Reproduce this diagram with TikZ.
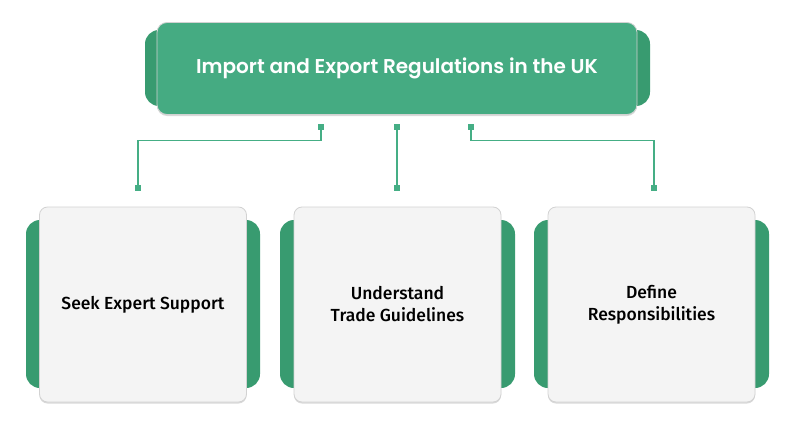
\documentclass[tikz,border=0pt]{standalone}
\usepackage{fontspec}
\setmainfont{Fira Sans}
\newfontfamily\cardfont{Fira Sans Medium}
\newfontfamily\titlefont{Poppins SemiBold}
\usetikzlibrary{shadows}
\definecolor{gfront}{HTML}{45AB82}
\definecolor{gback}{HTML}{389B70}
\definecolor{cardbg}{HTML}{F4F4F4}
\definecolor{cardln}{HTML}{D2D2D2}
\definecolor{linkc}{HTML}{45AE85}
\begin{document}
\begin{tikzpicture}[x=1pt,y=-1pt,
  backbar/.style={fill=gback,rounded corners=14pt},
  titlebox/.style={fill=gfront,draw=cardln,line width=0.8pt,rounded corners=10pt,minimum width=480pt,minimum height=92pt,inner sep=0pt,
    font=\titlefont\fontsize{20}{24}\selectfont,text=white},
  card/.style={fill=cardbg,draw=cardln,line width=0.8pt,rounded corners=8pt,minimum width=207pt,minimum height=195pt,inner sep=0pt,
    align=center,font=\cardfont\fontsize{17.5}{22}\selectfont,text=black,
    drop shadow={shadow xshift=0pt,shadow yshift=-1.5pt,opacity=0.15,fill=black}},
  dot/.style={fill=linkc,minimum size=6pt,inner sep=0pt},
  link/.style={draw=linkc,line width=1.5pt}]
\useasboundingbox (0,0) rectangle (794,428);
% top
\fill[backbar] (145,30) rectangle (650,106);
\node[titlebox,drop shadow={shadow xshift=0pt,shadow yshift=-1.5pt,opacity=0.15,fill=black}] (top) at (397,68.5) {Import and Export Regulations in the UK};
% cards back bars
\fill[backbar] (26,220) rectangle (260,388);
\fill[backbar] (280,220) rectangle (515,388);
\fill[backbar] (534,220) rectangle (769,388);
\node[card] (c1) at (143,304.5) {Seek Expert Support};
\node[card] (c2) at (397.5,304.5) {Understand\\Trade Guidelines};
\node[card] (c3) at (651.5,304.5) {Define\\Responsibilities};
% connector dots
\node[dot] (t1) at (321,127) {};
\node[dot] (t2) at (397,127) {};
\node[dot] (t3) at (471,127) {};
\node[dot] (b1) at (138,187.5) {};
\node[dot] (b2) at (397,187.5) {};
\node[dot] (b3) at (654,187.5) {};
\draw[link] (t1.center) -- (321,140.5) -| (b1.center);
\draw[link] (t2.center) -- (b2.center);
\draw[link] (t3.center) -- (471,140.5) -| (b3.center);
\end{tikzpicture}
\end{document}
